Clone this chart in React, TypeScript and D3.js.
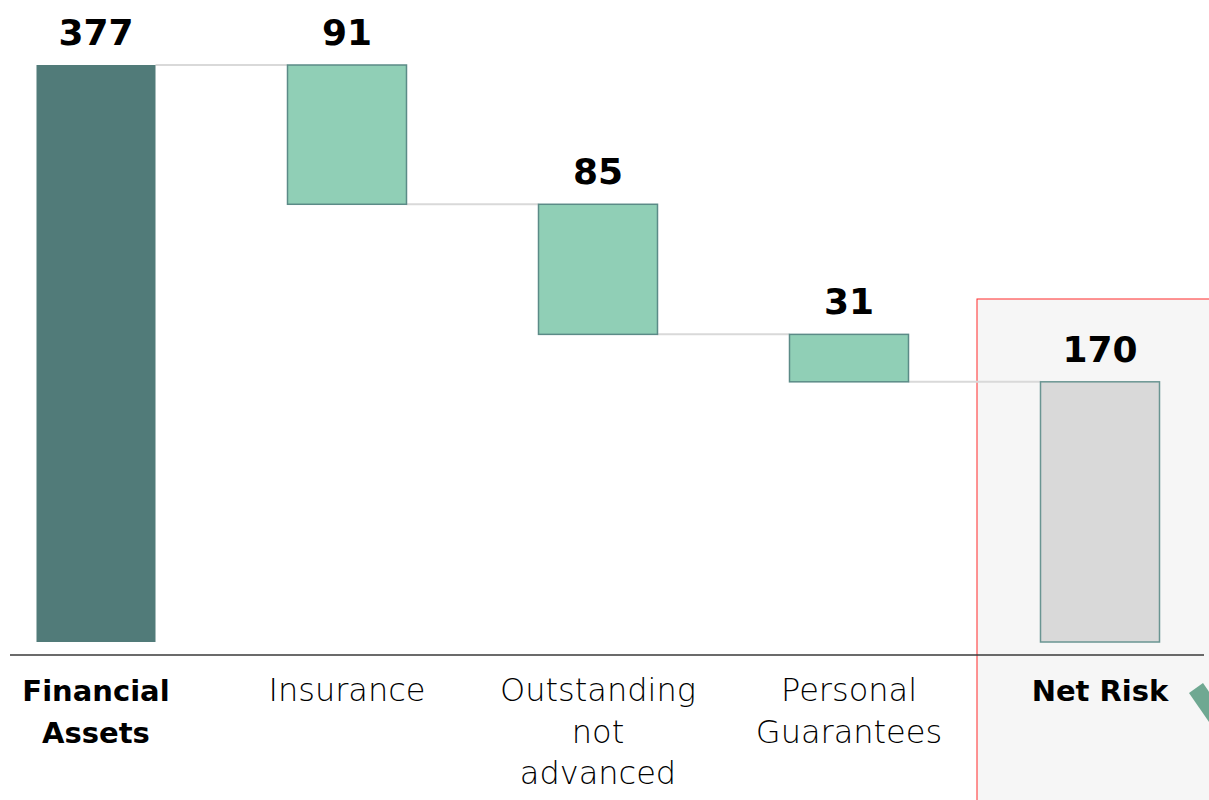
import React from "react";
import * as d3 from "d3";

const categories: string[][] = [
  ["Financial", "Assets"],
  ["Insurance"],
  ["Outstanding", "not", "advanced"],
  ["Personal", "Guarantees"],
  ["Net Risk"],
];
const values: number[] = [377, -91, -85, -31, 170];
const kinds: string[] = ["total", "delta", "delta", "delta", "total"];
const labels: string[] = ["377", "91", "85", "31", "170"];

const W = 1209;
const H = 800;

export default function App() {
  const keys = categories.map((c) => c.join(" "));
  const x = d3.scalePoint<string>().domain(keys).range([96, 1100]);
  const y = d3.scaleLinear().domain([0, 377]).range([642, 65]);
  const bw = 119;

  let running = 0;
  const bars = values.map((v, i) => {
    let lo: number, hi: number;
    if (kinds[i] === "total") {
      lo = 0;
      hi = v;
      running = v;
    } else {
      const next = running + v;
      lo = Math.min(running, next);
      hi = Math.max(running, next);
      running = next;
    }
    return { key: keys[i], lo, hi, end: running, kind: kinds[i], i };
  });

  const fills = ["#517b79", "#90cfb6", "#90cfb6", "#90cfb6", "#d9d9d9"];
  const strokes = ["#517b79", "#5b8b87", "#5b8b87", "#5b8b87", "#6a9592"];

  return (
    <svg
      width={W}
      height={H}
      style={{ position: "absolute", left: 0, top: 0, background: "#fff" }}
    >
      <rect x={977} y={299} width={300} height={600} fill="#f6f6f6" stroke="#ff2a2a" strokeWidth={1} />
      <polygon points="1189,693 1203,683 1230,722 1216,732" fill="#6fa892" />
      {bars.slice(0, -1).map((b, i) => (
        <line
          key={"c" + i}
          x1={(x(b.key) as number) + bw / 2}
          x2={(x(keys[i + 1]) as number) - bw / 2}
          y1={y(b.end)}
          y2={y(b.end)}
          stroke="#d9d9d9"
          strokeWidth={2}
        />
      ))}
      {bars.map((b) => (
        <rect
          key={"b" + b.i}
          x={(x(b.key) as number) - bw / 2}
          y={y(b.hi)}
          width={bw}
          height={y(b.lo) - y(b.hi)}
          fill={fills[b.i]}
          stroke={strokes[b.i]}
          strokeWidth={b.i === 0 ? 0 : 1.5}
        />
      ))}
      {bars.map((b) => (
        <text
          key={"v" + b.i}
          x={x(b.key) as number}
          y={y(b.hi) - 20}
          textAnchor="middle"
          fontFamily="'DejaVu Sans', sans-serif"
          fontWeight="bold"
          fontSize={36}
          fill="#000"
        >
          {labels[b.i]}
        </text>
      ))}
      <line x1={10} x2={1204} y1={655} y2={655} stroke="#3a3a3a" strokeWidth={1.5} />
      {categories.map((lines, i) => {
        const bold = kinds[i] === "total";
        return (
          <text
            key={"l" + i}
            x={x(keys[i]) as number}
            y={702}
            textAnchor="middle"
            fontFamily="'DejaVu Sans', sans-serif"
            fontWeight={bold ? "bold" : 200}
            fontSize={bold ? 29 : 32}
            fill="#000"
          >
            {lines.map((t, j) => (
              <tspan key={j} x={x(keys[i]) as number} y={701 + j * 41.5}>
                {t}
              </tspan>
            ))}
          </text>
        );
      })}
    </svg>
  );
}
